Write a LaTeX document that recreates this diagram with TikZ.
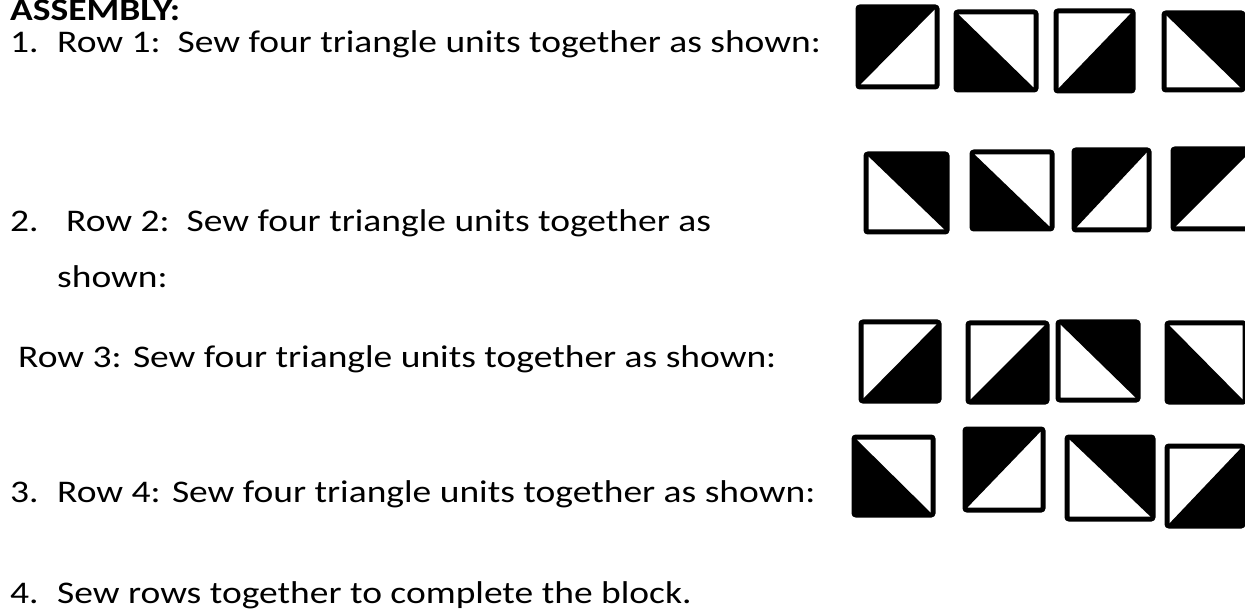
\documentclass[tikz,border=0pt]{standalone}
\usepackage{fontspec}
\setmainfont{Carlito}[FakeStretch=1.19]
\usepackage{tikz}
\usetikzlibrary{positioning}

\begin{document}
\begin{tikzpicture}[
    x=1pt, y=-1pt,
    txt/.style={anchor=base west, inner sep=0pt, font=\fontsize{31.5}{38}\selectfont},
    head/.style={txt, font=\fontsize{31.5}{38}\selectfont\bfseries},
    patch/.style={draw=black, line width=5pt, rounded corners=2pt},
    half/.style={fill=black}
]
    \useasboundingbox (0,0) rectangle (1245,612);

    % instructions
    \node[head] (title) at (10,21) {ASSEMBLY:};
    \node[txt] (num1) at (10,53) {1.};
    \node[txt] (row1) at (57,53) {Row 1:\ \ Sew four triangle units together as shown:};
    \node[txt] (num2) at (10,232) {2.};
    \node[txt] (row2) at (66,232) {Row 2:\ \ Sew four triangle units together as};
    \node[txt] (row2b) at (57,288) {shown:};
    \node[txt] (row3) at (18,367) {Row 3: Sew four triangle units together as shown:};
    \node[txt] (num3) at (10,502) {3.};
    \node[txt] (row4) at (57,502) {Row 4: Sew four triangle units together as shown:};
    \node[txt] (num4) at (10,603) {4.};
    \node[txt] (rows) at (57,603) {Sew rows together to complete the block.};

    % triangle units: corners a=top left, b=top right, c=bottom right, d=bottom left
    \foreach \xa/\ya/\xb/\yb/\p/\q/\r in {
        858/7/937/87/a/b/d, 956/12/1036/90/a/d/c, 1056/11/1133/91/b/c/d, 1164/13/1243/90/a/b/c,
        866/154/947/232/a/b/c, 972/152/1052/229/a/d/c, 1074/150/1149/230/a/b/d, 1173/149/1253/229/a/b/d,
        861/322/939/401/b/c/d, 968/323/1047/402/b/c/d, 1058/322/1138/400/a/b/c, 1167/323/1245/402/a/d/c,
        854/437/933/515/a/d/c, 965/429/1043/510/a/b/d, 1067/437/1153/519/a/b/c, 1167/446/1243/526/b/c/d} {
        \coordinate (a) at (\xa,\ya);
        \coordinate (b) at (\xb,\ya);
        \coordinate (c) at (\xb,\yb);
        \coordinate (d) at (\xa,\yb);
        \fill[half] (\p) -- (\q) -- (\r) -- cycle;
        \draw[patch] (a) rectangle (c);
    }
\end{tikzpicture}
\end{document}
